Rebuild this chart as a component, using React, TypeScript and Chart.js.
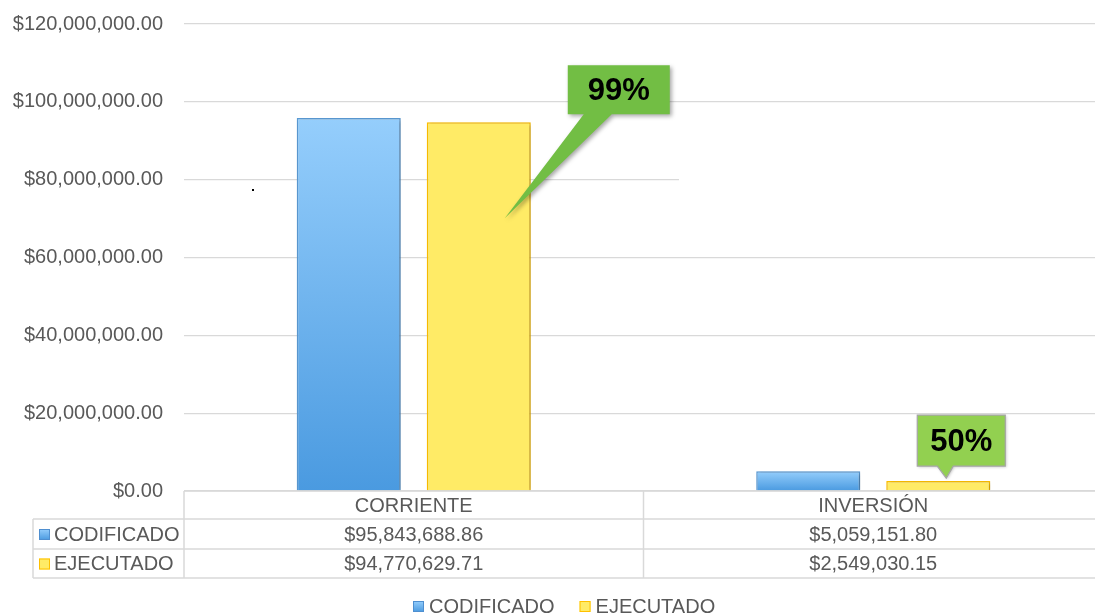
import React, { useEffect, useRef } from 'react';
import { Chart, registerables } from 'chart.js';

Chart.register(...registerables);

const categories = ['CORRIENTE', 'INVERSIÓN'];
const seriesNames = ['CODIFICADO', 'EJECUTADO'];
const codificado = [95843688.86, 5059151.8];
const ejecutado = [94770629.71, 2549030.15];
const percentLabels = ['99%', '50%'];
const yMax = 120000000;
const yStep = 20000000;

const FONT = '"Liberation Sans", Arial, sans-serif';
const TEXT = '#595959';
const GRID = '#D9D9D9';
const FS = 20;

const fmt = (v: number) =>
  '$' + v.toLocaleString('en-US', { minimumFractionDigits: 2, maximumFractionDigits: 2 });

function blueGradient(ctx: CanvasRenderingContext2D, top: number, bot: number) {
  const g = ctx.createLinearGradient(0, top, 0, bot);
  g.addColorStop(0, '#95CEFC');
  g.addColorStop(1, '#4A9AE0');
  return g;
}

const shadowPlugin = {
  id: 'barShadow',
  beforeDatasetsDraw(chart: any) {
    const ctx = chart.ctx;
    ctx.save();
    ctx.shadowColor = 'rgba(0,0,0,0.28)';
    ctx.shadowBlur = 4;
    ctx.shadowOffsetX = 2;
    ctx.shadowOffsetY = 1;
  },
  afterDatasetsDraw(chart: any) {
    chart.ctx.restore();
  },
};

const tablePlugin = {
  id: 'dataTable',
  afterDraw(chart: any) {
    const ctx: CanvasRenderingContext2D = chart.ctx;
    const area = chart.chartArea;
    const xs = chart.scales.x;
    const left = area.left;
    const right = area.right;
    const y0 = area.bottom;
    const rowH = [28, 30, 29];
    const r1 = y0 + rowH[0];
    const r2 = r1 + rowH[1];
    const r3 = r2 + rowH[2];
    const labelLeft = 33;

    ctx.save();
    const y80 = chart.scales.y.getPixelForValue(80000000);
    ctx.fillStyle = '#ffffff';
    ctx.fillRect(679, y80 - 1.5, right - 679 + 2, 3);

    ctx.strokeStyle = GRID;
    ctx.lineWidth = 1.5;
    ctx.beginPath();
    ctx.moveTo(left, y0); ctx.lineTo(right, y0);
    ctx.moveTo(labelLeft, r1); ctx.lineTo(right, r1);
    ctx.moveTo(labelLeft, r2); ctx.lineTo(right, r2);
    ctx.moveTo(labelLeft, r3); ctx.lineTo(right, r3);
    ctx.moveTo(labelLeft, r1); ctx.lineTo(labelLeft, r3);
    ctx.moveTo(left, y0); ctx.lineTo(left, r3);
    const mid = (xs.getPixelForValue(0) + xs.getPixelForValue(1)) / 2;
    ctx.moveTo(mid, y0); ctx.lineTo(mid, r3);
    ctx.moveTo(right - 1, y0); ctx.lineTo(right - 1, r3);
    ctx.stroke();

    ctx.fillStyle = TEXT;
    ctx.font = FS + 'px ' + FONT;
    ctx.textBaseline = 'middle';
    ctx.textAlign = 'center';
    const series = [codificado, ejecutado];
    categories.forEach((c, i) => {
      const cx = xs.getPixelForValue(i);
      ctx.fillText(c, cx, y0 + rowH[0] / 2 + 1);
      ctx.fillText(fmt(series[0][i]), cx, r1 + rowH[1] / 2 + 1);
      ctx.fillText(fmt(series[1][i]), cx, r2 + rowH[2] / 2 + 1);
    });

    const drawSwatch = (x: number, y: number, s: number, idx: number) => {
      if (idx === 0) {
        ctx.fillStyle = blueGradient(ctx, y, y + s);
        ctx.strokeStyle = '#4F8FD0';
      } else {
        ctx.fillStyle = '#FFEB66';
        ctx.strokeStyle = '#FFC000';
      }
      ctx.lineWidth = 1;
      ctx.fillRect(x, y, s, s);
      ctx.strokeRect(x + 0.5, y + 0.5, s - 1, s - 1);
    };
    ctx.textAlign = 'left';
    [r1, r2].forEach((ry, idx) => {
      const cy = ry + rowH[idx + 1] / 2;
      drawSwatch(39, cy - 5, 11, idx);
      ctx.fillStyle = TEXT;
      ctx.fillText(seriesNames[idx], 54, cy + 1);
    });

    const ly = 606;
    let lx = 413;
    seriesNames.forEach((n, idx) => {
      drawSwatch(lx, ly - 5, 11, idx);
      ctx.fillStyle = TEXT;
      ctx.fillText(n, lx + 16, ly + 1);
      lx += 16 + ctx.measureText(n).width + 25;
    });

    ctx.fillStyle = '#000000';
    ctx.fillRect(252, 189, 2, 2);
    ctx.restore();
  },
};

const calloutPlugin = {
  id: 'callouts',
  afterDraw(chart: any) {
    const ctx: CanvasRenderingContext2D = chart.ctx;
    const meta = chart.getDatasetMeta(1);
    ctx.save();

    const b0 = meta.data[0];
    const tip0 = { x: b0.x + 26, y: b0.y + 96 };
    const box0 = { x: b0.x + 89, y: b0.y - 57, w: 102, h: 49 };
    ctx.shadowColor = 'rgba(0,0,0,0.35)';
    ctx.shadowBlur = 4;
    ctx.shadowOffsetX = 2;
    ctx.shadowOffsetY = 2;
    ctx.fillStyle = '#72BE44';
    ctx.beginPath();
    ctx.moveTo(box0.x, box0.y);
    ctx.lineTo(box0.x + box0.w, box0.y);
    ctx.lineTo(box0.x + box0.w, box0.y + box0.h);
    ctx.lineTo(box0.x + 44, box0.y + box0.h);
    ctx.lineTo(tip0.x, tip0.y);
    ctx.lineTo(box0.x + 16, box0.y + box0.h);
    ctx.lineTo(box0.x, box0.y + box0.h);
    ctx.closePath();
    ctx.fill();
    ctx.shadowColor = 'transparent';
    ctx.fillStyle = '#000000';
    ctx.font = 'bold 31px ' + FONT;
    ctx.textAlign = 'center';
    ctx.textBaseline = 'middle';
    ctx.fillText(percentLabels[0], box0.x + box0.w / 2, box0.y + box0.h / 2 + 2);

    const b1 = meta.data[1];
    const tip1 = { x: b1.x + 8, y: b1.y - 3 };
    const box1 = { x: b1.x - 21, y: b1.y - 66, w: 88, h: 51 };
    ctx.shadowColor = 'rgba(0,0,0,0.25)';
    ctx.shadowBlur = 3;
    ctx.shadowOffsetX = 1;
    ctx.shadowOffsetY = 1;
    ctx.fillStyle = '#92D050';
    ctx.strokeStyle = '#A6A6A6';
    ctx.lineWidth = 1.2;
    ctx.beginPath();
    ctx.moveTo(box1.x, box1.y);
    ctx.lineTo(box1.x + box1.w, box1.y);
    ctx.lineTo(box1.x + box1.w, box1.y + box1.h);
    ctx.lineTo(box1.x + 36, box1.y + box1.h);
    ctx.lineTo(tip1.x, tip1.y);
    ctx.lineTo(box1.x + 20, box1.y + box1.h);
    ctx.lineTo(box1.x, box1.y + box1.h);
    ctx.closePath();
    ctx.fill();
    ctx.shadowColor = 'transparent';
    ctx.stroke();
    ctx.fillStyle = '#000000';
    ctx.font = 'bold 31px ' + FONT;
    ctx.fillText(percentLabels[1], box1.x + box1.w / 2, box1.y + box1.h / 2 + 2);
    ctx.restore();
  },
};

export default function App() {
  const ref = useRef<HTMLCanvasElement>(null);

  useEffect(() => {
    if (!ref.current) return;
    const chart = new Chart(ref.current, {
      type: 'bar',
      data: {
        labels: categories,
        datasets: [
          {
            label: seriesNames[0],
            data: codificado,
            backgroundColor: (c: any) => {
              const ch = c.chart;
              const ys = ch.scales && ch.scales.y;
              if (!ys || c.type !== 'data') return '#7DBAF5';
              const top = ys.getPixelForValue(c.raw);
              const bot = ys.getPixelForValue(0);
              if (!isFinite(top) || !isFinite(bot)) return '#7DBAF5';
              return blueGradient(ch.ctx, top, bot);
            },
            borderColor: '#5B9BD5',
            borderWidth: 1.5,
            barPercentage: 0.8,
            categoryPercentage: 0.566,
          },
          {
            label: seriesNames[1],
            data: ejecutado,
            backgroundColor: '#FFEB66',
            borderColor: '#FFC000',
            borderWidth: 1.5,
            barPercentage: 0.8,
            categoryPercentage: 0.566,
          },
        ],
      },
      options: {
        responsive: false,
        animation: false,
        layout: { padding: { left: 0, top: 0, right: 1, bottom: 123 } },
        plugins: {
          legend: { display: false },
          tooltip: { enabled: false },
        },
        scales: {
          x: { display: false },
          y: {
            min: 0,
            max: yMax,
            afterFit: (s: any) => {
              s.width = 184;
            },
            ticks: {
              stepSize: yStep,
              padding: 12,
              color: TEXT,
              font: { family: FONT, size: FS },
              callback: (v: any) => fmt(Number(v)),
            },
            grid: {
              color: GRID,
              lineWidth: 1.2,
              drawTicks: true,
              tickLength: 9,
              tickColor: 'rgba(0,0,0,0)',
            },
            border: { display: false },
          },
        },
      },
      plugins: [shadowPlugin, tablePlugin, calloutPlugin],
    });
    return () => chart.destroy();
  }, []);

  return (
    <div
      style={{
        position: 'fixed',
        left: 0,
        top: 0,
        width: 1095,
        height: 614,
        overflow: 'hidden',
        background: '#ffffff',
      }}
    >
      <canvas ref={ref} width={1104} height={614} style={{ display: 'block' }} />
    </div>
  );
}
